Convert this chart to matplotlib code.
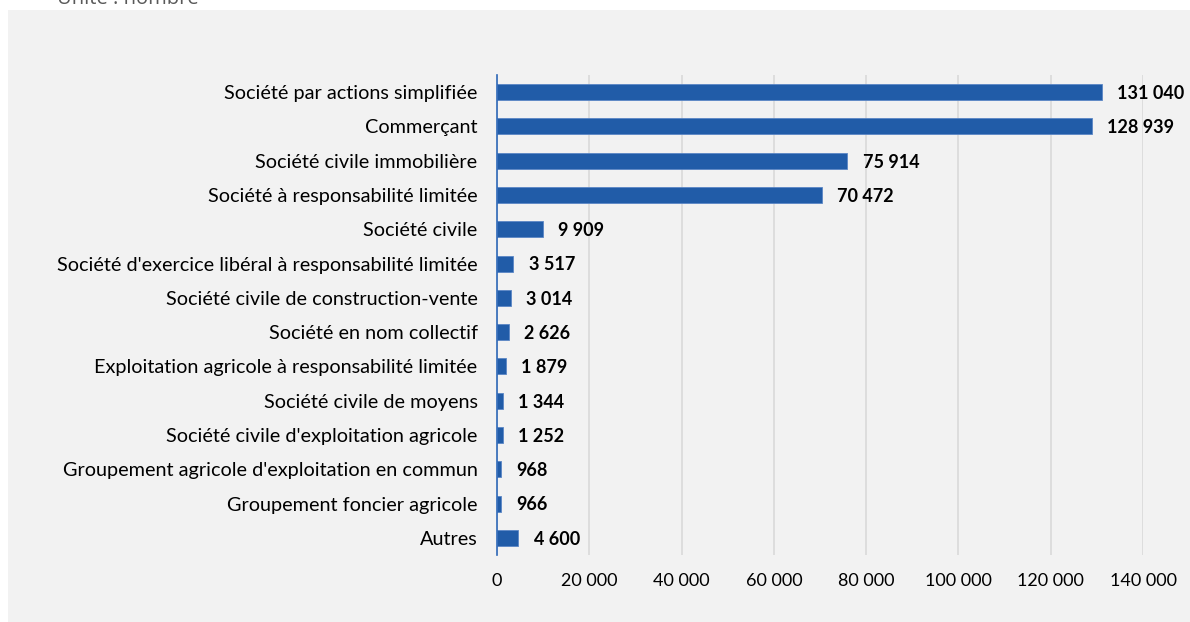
import matplotlib.pyplot as plt
from matplotlib.ticker import FuncFormatter

plt.rcParams['font.family'] = ['Lato', 'DejaVu Sans']

categories = [
    "Société par actions simplifiée",
    "Commerçant",
    "Société civile immobilière",
    "Société à responsabilité limitée",
    "Société civile",
    "Société d'exercice libéral à responsabilité limitée",
    "Société civile de construction-vente",
    "Société en nom collectif",
    "Exploitation agricole à responsabilité limitée",
    "Société civile de moyens",
    "Société civile d'exploitation agricole",
    "Groupement agricole d'exploitation en commun",
    "Groupement foncier agricole",
    "Autres",
]
values = [131040, 128939, 75914, 70472, 9909, 3517, 3014, 2626, 1879, 1344, 1252, 968, 966, 4600]
x_ticks = [0, 20000, 40000, 60000, 80000, 100000, 120000, 140000]


def fmt(v):
    return f"{int(v):,}".replace(",", " ")


fig = plt.figure(figsize=(11.9, 6.22), dpi=100, facecolor='white')
# grey panel behind the chart
fig.patches.append(plt.Rectangle((8 / 1190, 0), 1 - 8 / 1190, 1 - 10 / 622,
                                 transform=fig.transFigure, facecolor='#f2f2f2',
                                 edgecolor='none', zorder=-10))
fig.text(57 / 1190, 1 - 4 / 622, "Unité : nombre", fontsize=14.5, color='#595959',
         va='baseline', ha='left', family=['Open Sans', 'DejaVu Sans'])

ax = fig.add_axes([497 / 1190, 67 / 622, (1143 - 497) / 1190, (555 - 75) / 622])
ax.set_facecolor('none')

pos = list(range(len(categories)))
ax.barh(pos, values, height=0.47, color='#215ca8', edgecolor='#5b86c5',
        linewidth=0.6, zorder=3)
for p, v in zip(pos, values):
    ax.annotate(fmt(v), (v, p), xytext=(11, -1), textcoords='offset points',
                fontsize=13, fontweight='bold', va='center', ha='left',
                color='black', zorder=4)

ax.set_ylim(len(categories) - 0.5, -0.5)
ax.set_xlim(0, 140000)
ax.set_yticks(pos)
ax.set_yticklabels(categories, fontsize=14.3)
ax.set_xticks(x_ticks)
ax.xaxis.set_major_formatter(FuncFormatter(lambda v, _: fmt(v)))
ax.tick_params(axis='both', length=0, colors='black')
ax.tick_params(axis='x', pad=13, labelsize=13)
ax.tick_params(axis='y', pad=14)
ax.grid(axis='x', color='#d9d9d9', linewidth=1.2, zorder=0)
for s in ['top', 'right', 'bottom']:
    ax.spines[s].set_visible(False)
ax.spines['left'].set_color('#2e68b8')
ax.spines['left'].set_linewidth(1.2)
ax.spines['left'].set_zorder(5)

fig.savefig('out.png', dpi=100, facecolor='white')
